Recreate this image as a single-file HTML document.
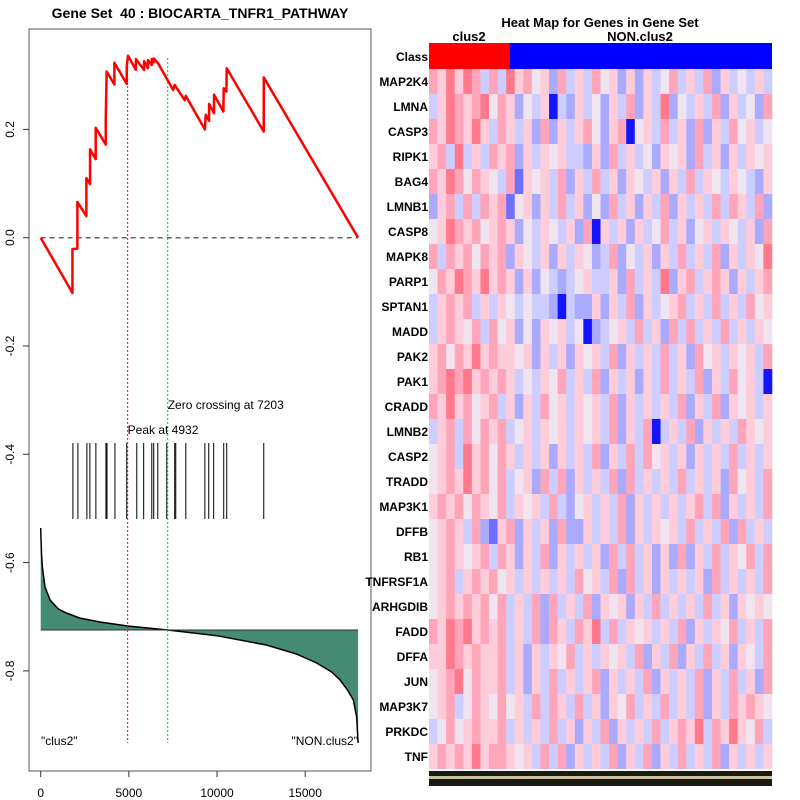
<!DOCTYPE html>
<html><head><meta charset="utf-8"><style>
body{margin:0;background:#fff;}
svg{display:block;font-family:"Liberation Sans",sans-serif;}
</style></head><body>
<svg id="chart" width="800" height="800" viewBox="0 0 800 800">
<rect width="800" height="800" fill="#fff"/>
<g id="left"></g>
<g id="right"></g>
</svg>
<script>
// ---- Enrichment data ----
const esRank = [0,1800,1800,2080,2080,2590,2590,2800,2800,3120,3120,3690,3690,3740,4180,4180,4880,4880,4950,5400,5400,5860,5860,6080,6080,6300,6300,6410,6410,6640,7510,7600,8170,8230,9310,9360,9550,9550,9830,9830,10360,10380,10530,10550,12650,12650,18000];
const esValue = [0,-0.102,-0.021,-0.02,0.066,0.04,0.11,0.099,0.163,0.145,0.203,0.172,0.22,0.307,0.283,0.323,0.284,0.316,0.336,0.31,0.33,0.31,0.326,0.313,0.328,0.319,0.33,0.324,0.331,0.323,0.273,0.282,0.254,0.262,0.2,0.227,0.216,0.247,0.23,0.264,0.233,0.276,0.27,0.313,0.196,0.296,0];
const hitRanks = [1826,2110,2620,2790,3130,3700,3760,4210,4880,5450,5840,6300,6410,6640,7150,7600,7660,8230,9310,9530,9810,10380,10550,12650];
const metricRank = [0,20,50,100,245,530,1000,1460,2200,3360,4930,7200,9980,12800,14500,15650,16500,16980,17400,17730,17920,18000];
const metricValue = [1.02,0.9,0.75,0.62,0.43,0.3,0.21,0.17,0.12,0.08,0.04,0,-0.057,-0.15,-0.24,-0.33,-0.42,-0.5,-0.6,-0.7,-0.87,-1.13];
const xTicks = [0,5000,10000,15000];
const yTicks = [0.2,0.0,-0.2,-0.4,-0.6,-0.8];
const yTickLabels = ["0.2","0.0","-0.2","-0.4","-0.6","-0.8"];
const peakRank = 4932, zeroCross = 7203, maxRank = 18000;

// ---- Heatmap data ----
const genes = ["MAP2K4","LMNA","CASP3","RIPK1","BAG4","LMNB1","CASP8","MAPK8","PARP1","SPTAN1","MADD","PAK2","PAK1","CRADD","LMNB2","CASP2","TRADD","MAP3K1","DFFB","RB1","TNFRSF1A","ARHGDIB","FADD","DFFA","JUN","MAP3K7","PRKDC","TNF"];
const heatRows = [
"6575763637564526353645252534635362534353",
"3576567465243503253425362537243536253426",
"6576575365352625356425604536352625364534",
"5637353656253545332526353425452635253545",
"6576465436154536253635254352536354354325",
"2563636561452536352426352536253536365362",
"4576564565243543526053525346352453543526",
"6365646562543525354236243525363536253547",
"4657657565252432345335263537256356525356",
"3565635354343320322525362534563536353645",
"3565463645242545340234536352636353635354",
"5646575655452535254536253536352645354536",
"5676756565343546353625352536353625364530",
"6575645635253645354536253535362536254535",
"3563646563453545354536253603536253536545",
"4563756465353525353625363645352535363535",
"4565756463452636253536263535363535264536",
"5656465463545363245353625353535636253536",
"4565362156253526225353625354536353626353",
"4565456365253625353526363525262536354636",
"4563565645353535364536263525353526353536",
"4565656463536263536254525363535363525454",
"6576756563536265365736354535362535463536",
"5576565563525354635354536253625363525436",
"4567465563525363535625353625353625363526",
"4563465464536365363525463536353625365654",
"3464565563535363525362535363565736575463",
"5656575665453636253536253625363536253535"
];
const classSplit = 9.4; // column count of clus2 within 40 columns

const NS="http://www.w3.org/2000/svg";
function mk(tag, attrs, parent){const e=document.createElementNS(NS,tag);for(const k in attrs)e.setAttribute(k,attrs[k]);parent.appendChild(e);return e;}
const L=document.getElementById('left'), R=document.getElementById('right');

const xs = r => 40.7 + r*0.017633;
const ys = v => 237.7 - v*541.5;
const zeroY = 630, mScale = 100;
const ym = v => zeroY - v*mScale;

// title
let t=mk('text',{x:200,y:18,'text-anchor':'middle','font-size':14,'font-weight':'bold'},L);
t.textContent="Gene Set\u00a0\u00a040 : BIOCARTA_TNFR1_PATHWAY";



// frame
let fr=mk('rect',{x:29,y:29,width:342,height:742,fill:'none',stroke:'#555','stroke-width':1},L);



// y ticks
yTicks.forEach((v,i)=>{
  const y=ys(v);
  mk('line',{x1:23,x2:29,y1:y,y2:y,stroke:'#333'},L);
  const tx=mk('text',{x:0,y:0,transform:`translate(14,${y}) rotate(-90)`,'text-anchor':'middle','font-size':12},L);
  tx.textContent=yTickLabels[i];
  
  
});
// x ticks
xTicks.forEach(v=>{
  const x=xs(v);
  mk('line',{x1:x,x2:x,y1:771,y2:777,stroke:'#333'},L);
  const tx=mk('text',{x:x,y:797,'text-anchor':'middle','font-size':12},L);
  tx.textContent=String(v);
  
  
});

// metric area
let d=`M${xs(metricRank[0])},${zeroY}`;
metricRank.forEach((r,i)=>{d+=` L${xs(r)},${ym(metricValue[i])}`;});
d+=` L${xs(metricRank[metricRank.length-1])},${zeroY} Z`;
let area=mk('path',{d:d,fill:'#458b74',stroke:'none'},L);


let ml=mk('polyline',{points:metricRank.map((r,i)=>`${xs(r)},${ym(metricValue[i])}`).join(' '),fill:'none',stroke:'#000','stroke-width':1.5},L);


mk('line',{x1:xs(0),x2:xs(maxRank),y1:zeroY,y2:zeroY,stroke:'#333','stroke-width':1},L);

// hits
hitRanks.forEach(r=>{
  const h=mk('line',{x1:xs(r),x2:xs(r),y1:443,y2:519,stroke:'#000','stroke-width':1},L);
  
  
});

// zero dashed
let zl=mk('line',{x1:xs(0),x2:xs(maxRank),y1:ys(0),y2:ys(0),stroke:'#666','stroke-width':1.5,'stroke-dasharray':'5,4'},L);



// peak and zero crossing lines
let pl=mk('line',{x1:xs(peakRank),x2:xs(peakRank),y1:58,y2:743,stroke:'#f00','stroke-width':1,'stroke-dasharray':'2,2'},L);


let gl=mk('line',{x1:xs(zeroCross),x2:xs(zeroCross),y1:58,y2:743,stroke:'#0c0','stroke-width':1,'stroke-dasharray':'2,2'},L);



// ES curve
let es=mk('polyline',{points:esRank.map((r,i)=>`${xs(r)},${ys(esValue[i])}`).join(' '),fill:'none',stroke:'#f00','stroke-width':2.5,'stroke-linejoin':'round'},L);



// annotations
let a1=mk('text',{x:xs(zeroCross),y:409,'font-size':12},L);a1.textContent="Zero crossing at 7203";


let a2=mk('text',{x:xs(peakRank),y:434,'font-size':12},L);a2.textContent="Peak at 4932";


let a3=mk('text',{x:41,y:745,'font-size':12},L);a3.textContent='"clus2"';


let a4=mk('text',{x:358,y:745,'font-size':12,'text-anchor':'end'},L);a4.textContent='"NON.clus2"';



// ---- Heatmap ----
const hx0=429, hx1=772, hy0=69, rowH=25;
const nCols=heatRows[0].length, cw=(hx1-hx0)/nCols;
const redScale=[[255,255,255],[255,205,218],[255,165,185],[255,120,140],[255,40,60]];
const blueScale=[[232,228,245],[205,205,255],[170,170,255],[110,110,255],[20,20,255]];
function col(v){
  const c = v>=4 ? (v===4?[240,228,240]:redScale[v-4]) : blueScale[4-v];
  return `rgb(${c[0]},${c[1]},${c[2]})`;
}
let ht=mk('text',{x:600,y:27,'text-anchor':'middle','font-size':13,'font-weight':'bold'},R);ht.textContent="Heat Map for Genes in Gene Set";


let c1=mk('text',{x:469,y:41,'text-anchor':'middle','font-size':13,'font-weight':'bold'},R);c1.textContent="clus2";


let c2=mk('text',{x:640,y:41,'text-anchor':'middle','font-size':13,'font-weight':'bold'},R);c2.textContent="NON.clus2";


let cb1=mk('rect',{x:hx0,y:43,width:classSplit*cw,height:26,fill:'#f00'},R);


let cb2=mk('rect',{x:hx0+classSplit*cw,y:43,width:hx1-hx0-classSplit*cw,height:26,fill:'#00f'},R);


let cl=mk('text',{x:428,y:61,'text-anchor':'end','font-size':12,'font-weight':'bold'},R);cl.textContent="Class";



heatRows.forEach((row,i)=>{
  const y=hy0+i*rowH;
  for(let j=0;j<nCols;j++){
    const v=+row[j];
    const c=mk('rect',{x:hx0+j*cw,y:y,width:cw+0.3,height:rowH,fill:col(v)},R);
    
    
  }
  const lb=mk('text',{x:428,y:y+17,'text-anchor':'end','font-size':12,'font-weight':'bold'},R);
  lb.textContent=genes[i];
  
  
});
let strip=mk('rect',{x:hx0,y:771,width:hx1-hx0,height:15,fill:'#1a1a10'},R);


mk('rect',{x:hx0,y:776,width:hx1-hx0,height:3,fill:'#c8c4a0'},R);
</script>
</body></html>
